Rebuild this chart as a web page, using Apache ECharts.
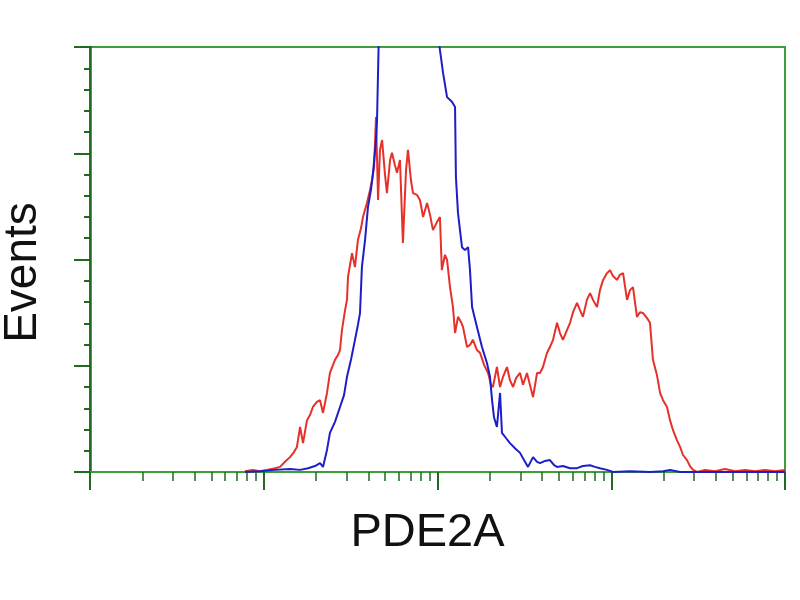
<!DOCTYPE html>
<html>
<head>
<meta charset="utf-8">
<script src="https://cdn.jsdelivr.net/npm/echarts@6/dist/echarts.min.js"></script>
<style>html,body{margin:0;padding:0;background:#fff;}#c{width:800px;height:600px;}</style>
</head>
<body>
<div id="c"></div>
<script>
// x values are in log10 decades (0 = 10^0 ... 4 = 10^4); y values are relative event counts (axis top = 100)
const blueX = [0.892,0.978,1.065,1.151,1.209,1.255,1.295,1.324,1.341,1.364,1.381,1.410,1.439,1.462,1.479,1.502,1.525,1.542,1.554,1.565,1.583,1.600,1.617,1.629,1.646,1.652,1.663,1.698,1.784,1.899,1.986,2.014,2.032,2.055,2.083,2.101,2.106,2.118,2.141,2.158,2.176,2.187,2.199,2.227,2.256,2.285,2.302,2.314,2.325,2.342,2.360,2.371,2.394,2.417,2.446,2.475,2.498,2.521,2.550,2.573,2.590,2.619,2.647,2.671,2.688,2.722,2.763,2.803,2.837,2.878,2.906,2.935,2.976,3.010,3.108,3.223,3.298,3.338,3.396,4.000];
const blueY = [0,0.2,0.5,0.7,0.5,0.9,1.4,2.1,1.2,5.2,9.2,11.8,15.3,18.1,22.4,26.4,31.1,34.6,37.4,48.2,54.6,62.4,66.4,70.4,78.1,82.8,104,115,130,125,110,99.3,93.9,88.2,87.1,85.9,69.4,60.9,52.9,52.2,52.9,47.5,38.8,34.1,29.4,25.6,22.4,16.9,12.9,10.6,18.6,9.2,8.0,6.8,5.6,4.5,2.8,1.2,3.5,2.4,2.1,2.6,2.8,1.6,1.2,1.4,0.9,0.9,1.4,1.6,1.2,0.9,0.5,0,0.2,0,0.2,0.5,0,0];
const redX = [0.892,0.938,0.978,1.019,1.065,1.094,1.122,1.151,1.174,1.191,1.209,1.226,1.249,1.266,1.283,1.306,1.324,1.341,1.364,1.381,1.410,1.427,1.439,1.450,1.468,1.479,1.485,1.508,1.525,1.542,1.560,1.571,1.594,1.612,1.623,1.635,1.646,1.658,1.669,1.681,1.698,1.709,1.727,1.738,1.755,1.767,1.784,1.801,1.819,1.830,1.847,1.859,1.882,1.899,1.917,1.940,1.957,1.974,1.997,2.014,2.025,2.043,2.055,2.072,2.089,2.101,2.118,2.135,2.147,2.170,2.187,2.204,2.227,2.245,2.268,2.291,2.308,2.319,2.342,2.360,2.377,2.400,2.417,2.435,2.452,2.475,2.492,2.515,2.532,2.550,2.573,2.590,2.607,2.630,2.647,2.665,2.688,2.705,2.722,2.745,2.763,2.780,2.803,2.820,2.837,2.860,2.878,2.895,2.918,2.935,2.953,2.976,2.993,3.010,3.033,3.050,3.068,3.091,3.108,3.125,3.148,3.165,3.183,3.206,3.223,3.240,3.263,3.281,3.298,3.321,3.338,3.355,3.378,3.396,3.413,3.436,3.453,3.471,3.494,3.540,3.597,3.655,3.712,3.770,3.827,3.885,3.942,4.000];
const redY = [0.2,0.5,0.2,0.5,0.9,1.2,2.4,3.5,4.7,5.9,10.6,6.8,12.2,13.4,15.3,16.5,16.9,13.9,18.6,23.3,26.4,27.5,28.7,33.4,38.1,40.5,45.9,51.5,48.2,54.6,57.4,60.0,63.3,66.4,68.7,71.8,83.5,64.0,75.8,78.1,69.9,65.6,73.4,75.1,72.2,70.4,73.4,53.9,71.1,75.8,68.7,65.6,65.2,64.0,60.0,63.3,60.5,56.9,58.8,60.0,47.5,51.1,49.9,43.5,38.8,32.7,36.5,35.3,34.1,29.4,29.9,31.1,28.7,28.0,25.2,23.3,20.5,20.0,24.7,20.0,22.4,24.7,21.6,20.0,22.1,23.3,20.5,23.3,20.5,17.6,23.3,23.3,24.7,28.0,29.4,31.1,35.1,32.7,31.1,33.4,35.1,37.6,39.8,38.1,36.5,40.5,42.1,40.5,38.8,42.8,45.2,46.8,47.5,46.1,45.2,46.4,46.8,40.5,42.8,43.5,36.5,37.6,37.4,36.2,35.1,26.4,22.8,18.6,16.9,15.3,12.2,9.9,7.5,5.9,4.0,2.8,1.4,0.5,0,0.5,0.2,0.7,0.2,0.5,0.2,0.5,0.2,0.5];
const xTitle = 'PDE2A';
const yTitle = 'Events';
const decades = [0, 1, 2, 3, 4];

// log-spaced minor tick positions (2..9 x 10^n) in decade units
const minorTicks = [];
for (let n = 0; n < 4; n++) for (let k = 2; k <= 9; k++) minorTicks.push(n + Math.log10(k));

const pair = (xs, ys) => xs.map((x, i) => [x, ys[i]]);
const darkGreen = '#1f6a1f';

const chart = echarts.init(document.getElementById('c'), null, {renderer: 'canvas'});
chart.setOption({
  animation: false,
  backgroundColor: '#ffffff',
  grid: {left: 90, right: 15, top: 47, bottom: 128, show: true, borderColor: '#3f9c3f', borderWidth: 2,
         backgroundColor: '#fff', containLabel: false, outerBoundsMode: 'none'},
  xAxis: [{
    type: 'value', min: decades[0], max: decades[decades.length - 1], interval: 1,
    position: 'bottom',
    name: xTitle, nameLocation: 'middle', nameGap: 38,
    nameTextStyle: {fontFamily: 'Liberation Sans, Arial, sans-serif', fontSize: 47, color: '#111', padding: [0, 20, 0, 0]},
    axisLine: {show: true, onZero: false, lineStyle: {color: '#3aa03a', width: 2}},
    axisTick: {show: true, length: 18, lineStyle: {color: darkGreen, width: 2}},
    axisLabel: {show: false},
    splitLine: {show: false}
  }, {
    type: 'value', min: decades[0], max: decades[decades.length - 1],
    position: 'bottom',
    axisLine: {show: false},
    axisTick: {show: true, length: 9, customValues: minorTicks, lineStyle: {color: darkGreen, width: 1.5}},
    axisLabel: {show: false},
    splitLine: {show: false}
  }],
  yAxis: {
    type: 'value', min: 0, max: 100, interval: 25,
    name: yTitle, nameLocation: 'middle', nameGap: 44, nameRotate: 90,
    nameTextStyle: {fontFamily: 'Liberation Sans, Arial, sans-serif', fontSize: 46, color: '#111', padding: [0, 26, 0, 0]},
    axisLine: {show: true, lineStyle: {color: darkGreen, width: 2.5}},
    axisTick: {show: true, length: 16, lineStyle: {color: darkGreen, width: 2}},
    minorTick: {show: true, splitNumber: 5, length: 6, lineStyle: {color: darkGreen, width: 2}},
    axisLabel: {show: false},
    splitLine: {show: false},
    minorSplitLine: {show: false}
  },
  series: [{
    type: 'line', data: pair(redX, redY), showSymbol: false, symbol: 'none', clip: true,
    lineStyle: {color: '#e5312a', width: 2}
  }, {
    type: 'line', data: pair(blueX, blueY), showSymbol: false, symbol: 'none', clip: true,
    lineStyle: {color: '#1e1ec8', width: 2}
  }]
});
</script>
</body>
</html>
